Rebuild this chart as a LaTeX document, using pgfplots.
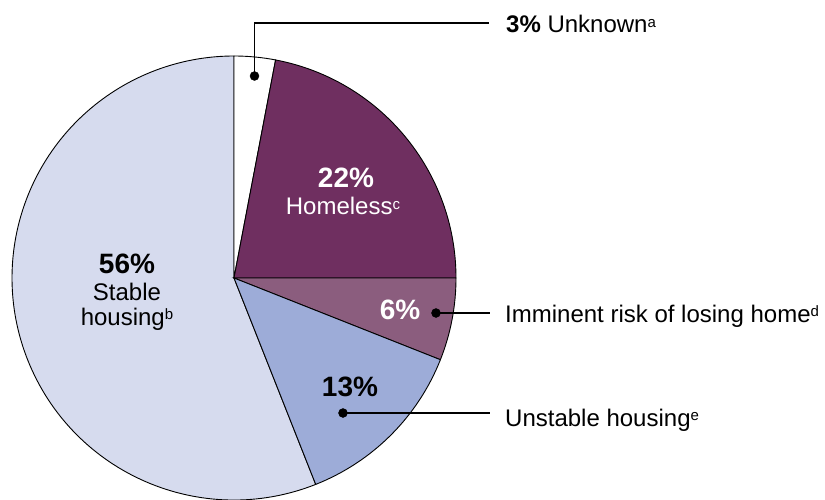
\documentclass[border=0pt]{standalone}
\usepackage{fontspec}
\setmainfont{Liberation Sans}
\usepackage{pgfplots}
\pgfplotsset{compat=1.18}
\usepackage{pgfplotstable}
\definecolor{homeless}{RGB}{111,47,96}
\definecolor{imminent}{RGB}{139,93,126}
\definecolor{unstable}{RGB}{157,172,216}
\definecolor{stable}{RGB}{214,219,238}
% shares (percent), clockwise from 12 o'clock
\pgfplotstableread{
name pct start end
Unknown 3 90 79.2
Homeless 22 79.2 0
Imminent 6 0 -21.6
Unstable 13 -21.6 -68.4
Stable 56 -68.4 -270
}\piedata
\newcommand{\lab}{\fontsize{24}{27}\selectfont}
\newcommand{\pct}{\fontsize{28}{32}\selectfont\bfseries}
\newcommand{\fnsup}[1]{\raisebox{5.5pt}{\fontsize{15}{15}\selectfont #1}}
\begin{document}
\begin{tikzpicture}
\begin{axis}[
  scale only axis, width=825pt, height=499pt,
  xmin=0, xmax=825, ymin=0, ymax=499,
  hide axis, clip=false,
]
\def\cx{234}\def\cy{221}\def\R{222}
\fill[stable, draw=black, line width=0.9pt] (axis cs:\cx,\cy) -- ++(-68.4:\R pt) arc[start angle=-68.4, end angle=-270, radius=\R pt] -- cycle;
\fill[white, draw=black, line width=0.9pt] (axis cs:\cx,\cy) -- ++(90:\R pt) arc[start angle=90, end angle=79.2, radius=\R pt] -- cycle;
\fill[homeless, draw=black, line width=0.9pt] (axis cs:\cx,\cy) -- ++(79.2:\R pt) arc[start angle=79.2, end angle=0, radius=\R pt] -- cycle;
\fill[imminent, draw=black, line width=0.9pt] (axis cs:\cx,\cy) -- ++(0:\R pt) arc[start angle=0, end angle=-21.6, radius=\R pt] -- cycle;
\fill[unstable, draw=black, line width=0.9pt] (axis cs:\cx,\cy) -- ++(-21.6:\R pt) arc[start angle=-21.6, end angle=-68.4, radius=\R pt] -- cycle;
% leader lines
\addplot[black, line width=1.1pt] coordinates {(254.5,423) (254.5,476) (489,476)};
\addplot[black, line width=1.1pt] coordinates {(436,186) (490,186)};
\addplot[black, line width=1.1pt] coordinates {(343,86) (490,86)};
\addplot[only marks, mark=*, mark size=4.5pt, black] coordinates {(254.5,423) (436,186) (343,86)};
% labels
\node[anchor=base west, inner sep=0pt] at (axis cs:506,466) {\lab\textbf{3\%} Unknown\fnsup{a}};
\node[anchor=base west, inner sep=0pt] at (axis cs:505,177) {\lab Imminent risk of losing home\fnsup{d}};
\node[anchor=base west, inner sep=0pt] at (axis cs:505,73) {\lab Unstable housing\fnsup{e}};
\node[anchor=base, inner sep=0pt, white] at (axis cs:346,312) {\pct 22\%};
\node[anchor=base, inner sep=0pt, white] at (axis cs:343,284) {\lab Homeless\fnsup{c}};
\node[anchor=base, inner sep=0pt, white] at (axis cs:400,180) {\pct 6\%};
\node[anchor=base, inner sep=0pt] at (axis cs:350,103) {\pct 13\%};
\node[anchor=base, inner sep=0pt] at (axis cs:127,226) {\pct 56\%};
\node[anchor=base, inner sep=0pt] at (axis cs:127,199) {\lab Stable};
\node[anchor=base, inner sep=0pt] at (axis cs:127,174) {\lab housing\fnsup{b}};
\end{axis}
\pgfresetboundingbox
\path (0,0) rectangle (825pt,499pt);
\end{tikzpicture}
\end{document}
